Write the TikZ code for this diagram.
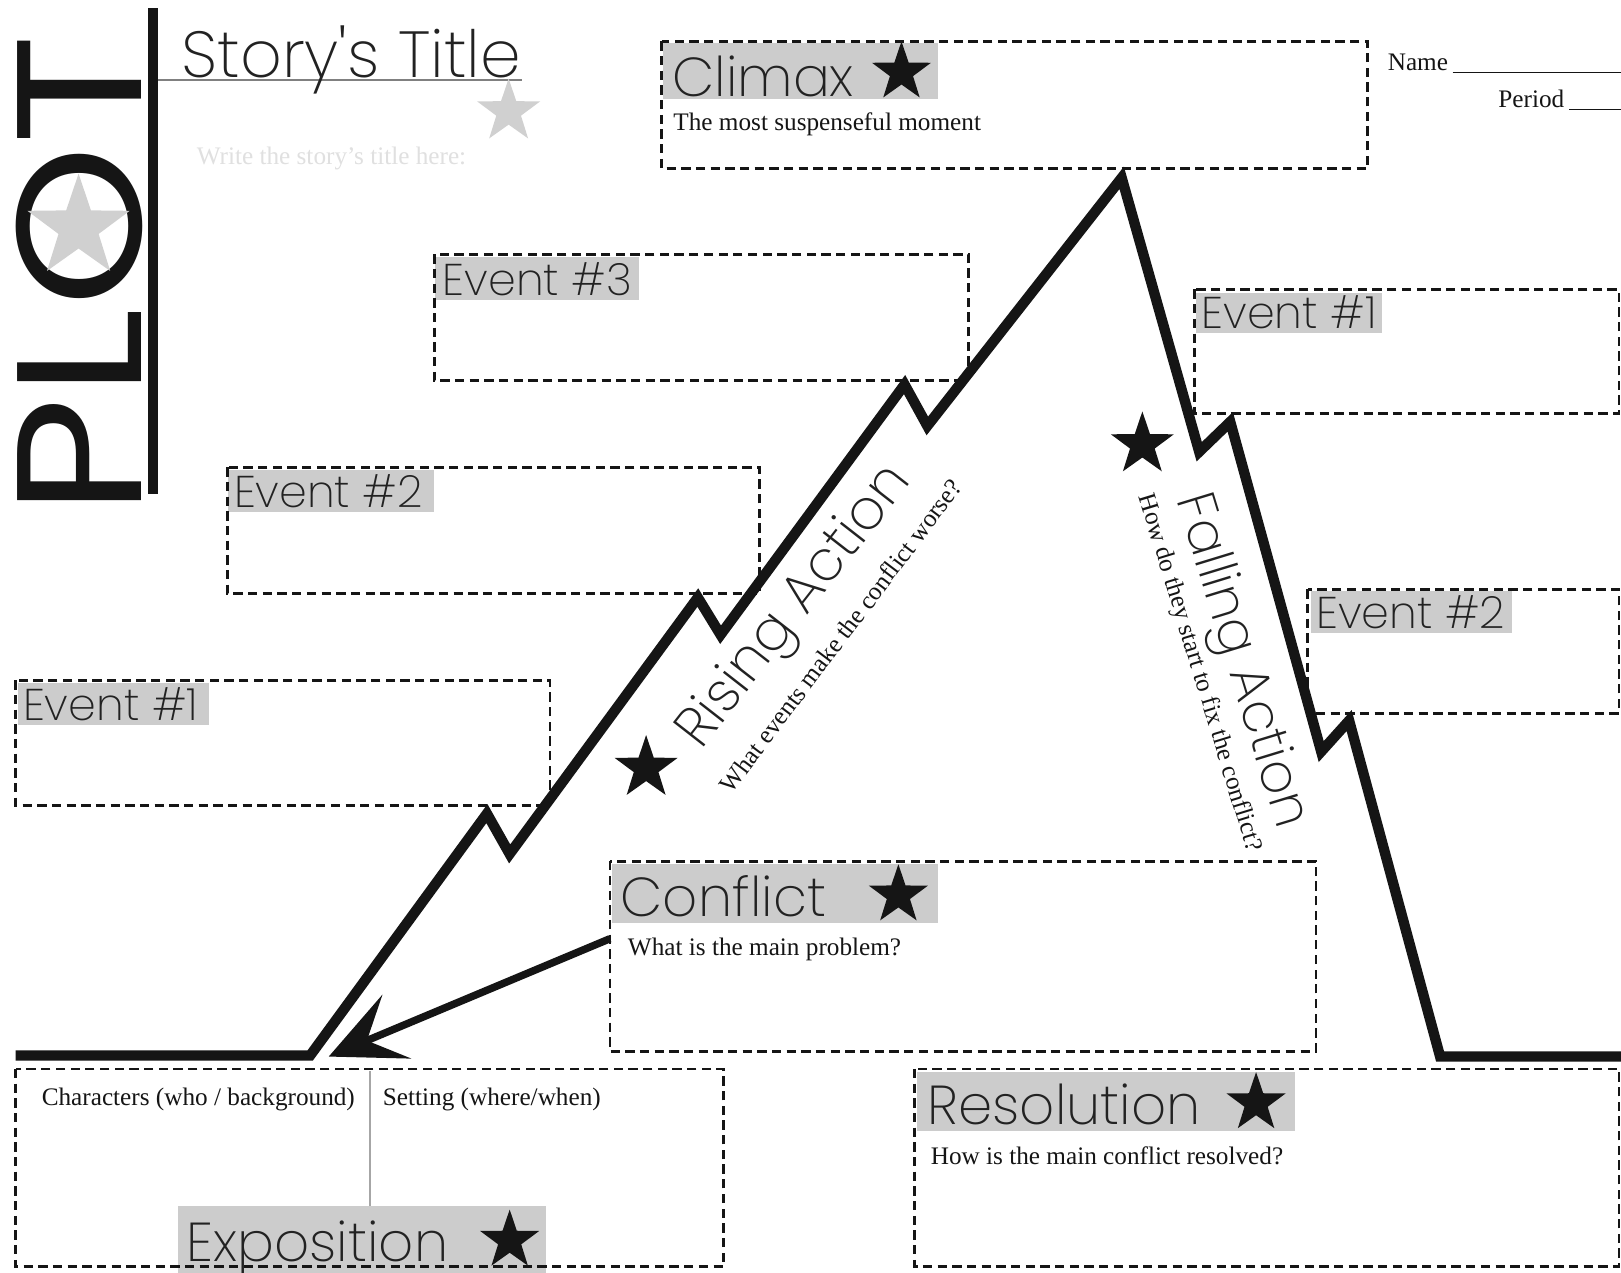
\documentclass[tikz,border=0pt]{standalone}
\usepackage{fontspec}
\setmainfont{Liberation Serif}
\IfFontExistsTF{Poppins ExtraLight}{\newfontfamily\hfont{Poppins ExtraLight}}{%
  \IfFontExistsTF{Poppins Light}{\newfontfamily\hfont{Poppins Light}}{\newfontfamily\hfont{Poppins}}}
\newfontfamily\pfont[FakeStretch=1.16]{Poppins}
\usetikzlibrary{shapes.geometric,calc}
\definecolor{lblgray}{HTML}{CCCCCC}
\definecolor{stargray}{HTML}{D0D0D0}
\definecolor{ink}{HTML}{151515}
\definecolor{hdink}{HTML}{222222}
\tikzset{
  box/.style={draw=ink, line width=1.4pt, dash pattern=on 4.5pt off 2.6pt},
  lbl/.style={fill=lblgray, draw=none},
  hd/.style={font=\hfont\fontsize{26.5}{30}\selectfont, text=hdink, inner sep=0pt, anchor=base west},
  ev/.style={font=\hfont\fontsize{21.5}{24}\selectfont, text=hdink, inner sep=0pt, anchor=base west},
  body/.style={font=\fontsize{12.2}{14}\selectfont, text=ink, inner sep=0pt, anchor=base west},
  bstar/.style={star, star points=5, star point ratio=2.55, fill=ink, draw=none, inner sep=0pt, minimum size=#1},
  gstar/.style={star, star points=5, star point ratio=2.55, fill=stargray, draw=none, inner sep=0pt, minimum size=#1},
  mount/.style={draw=ink, line width=5pt, line join=miter, line cap=butt},
}
\begin{document}
\begin{tikzpicture}[x=0.5pt,y=-0.5pt]
\fill[white] (0,0) rectangle (1568,1231);
\useasboundingbox (0,0) rectangle (1568,1231);

% ---------- PLOT header ----------
\node[rotate=90, anchor=base west, inner sep=0pt, font=\pfont\fontsize{86}{90}\selectfont, text=ink] (plot) at (137,500) {PLOT};
\node[gstar=52pt] (plotstar) at (76,220) {};
\fill[ink] (143,8) rectangle (153,478);

% ---------- Title ----------
\draw[gray, line width=1pt] (153,77) -- (505,77);
\node[font=\hfont\fontsize{31.5}{34}\selectfont, text=hdink, inner sep=0pt, anchor=base west] (title) at (175,75) {Story's Title};
\node[gstar=32pt] (titlestar) at (492,108) {};
\node[body, text=black!12] (titlehint) at (190,159) {Write the story's title here:};

% ---------- Name / Period ----------
\node[body] (name) at (1342,68) {Name};
\coordinate (nameA) at (1405,70); \coordinate (nameB) at (1568,70);
\draw[ink, line width=0.7pt] (nameA) -- (nameB);
\node[body] (period) at (1449,104) {Period};
\coordinate (perA) at (1518,106); \coordinate (perB) at (1568,106);
\draw[ink, line width=0.7pt] (perA) -- (perB);

% ---------- grey labels ----------
\fill[lbl] (641,42) rectangle (907,96);
\fill[lbl] (421,249) rectangle (618,290);
\fill[lbl] (1157,283) rectangle (1337,322);
\fill[lbl] (221,455) rectangle (420,495);
\fill[lbl] (1268,572) rectangle (1463,612);
\fill[lbl] (17,661) rectangle (202,701);
\fill[lbl] (592,836) rectangle (907,893);
\fill[lbl] (887,1037) rectangle (1253,1094);
\fill[lbl] (172,1167) rectangle (528,1231);

% ---------- dashed boxes ----------
\draw[box] (640,40) rectangle (1323,163);
\draw[box] (420,246) rectangle (937,368);
\draw[box] (1155,280) rectangle (1566,400);
\draw[box] (220,452) rectangle (735,574);
\draw[box] (1265,570) rectangle (1566,690);
\draw[box] (15,658) rectangle (532,779);
\draw[box] (590,833) rectangle (1273,1017);
\draw[box] (15,1034) rectangle (700,1225);
\draw[box] (885,1034) rectangle (1566,1225);
\draw[gray!70, line width=1pt] (358,1036) -- (358,1167);

% ---------- headings ----------
\node[hd] (climax) at (650,93) {Climax};
\node[bstar=30pt] (climaxstar) at (872,70) {};
\node[body] (climaxtxt) at (651,126) {The most suspenseful moment};

\node[ev] (ev3) at (428,286) {Event \#3};
\node[ev] (evr1) at (1162,318) {Event \#1};
\node[ev] (evl2) at (226,491) {Event \#2};
\node[ev] (evr2) at (1273,608) {Event \#2};
\node[ev] (evl1) at (22,697) {Event \#1};

\node[hd] (conflict) at (600,887) {Conflict};
\node[bstar=30pt] (conflictstar) at (869,866) {};
\node[body] (conflicttxt) at (607,924) {What is the main problem?};

\node[hd] (resolution) at (897,1088) {Resolution};
\node[bstar=30pt] (resstar) at (1215,1067) {};
\node[body] (restxt) at (900,1126) {How is the main conflict resolved?};

\node[body] (chars) at (40,1069) {Characters (who / background)};
\node[body] (setting) at (370,1069) {Setting (where/when)};
\node[hd] (expo) at (180,1220) {Exposition};
\node[bstar=30pt] (expostar) at (493,1200) {};

% ---------- rising / falling labels ----------
\node[rotate=52, inner sep=0pt, font=\hfont\fontsize{27}{30}\selectfont, text=hdink] (rising) at (770,588) {Rising Action};
\node[rotate=53, inner sep=0pt, font=\fontsize{12.2}{14}\selectfont, text=ink] (risingtxt) at (813,615) {What events make the conflict worse?};
\node[bstar=32pt] (risingstar) at (625,743) {};

\node[rotate=-73, inner sep=0pt, font=\hfont\fontsize{26}{30}\selectfont, text=hdink] (falling) at (1199,640) {Falling Action};
\node[rotate=-73, inner sep=0pt, font=\fontsize{12.2}{14}\selectfont, text=ink] (fallingtxt) at (1160,651) {How do they start to fix the conflict?};
\node[bstar=32pt] (fallingstar) at (1105,430) {};

% ---------- plot line ----------
\draw[mount] (15,1021) -- (300,1021) -- (471,787) -- (493,826) -- (675,578) -- (697,614)
  -- (875,372) -- (897,412) -- (1085,172) -- (1160,437) -- (1190,408) -- (1278,727)
  -- (1305,697) -- (1393,1022) -- (1568,1022);

% ---------- conflict arrow ----------
\coordinate (cfA) at (590,908);
\coordinate (cfTip) at (318,1022);
\coordinate (cfNotch) at ($(cfTip)!20pt!(cfA)$);
\coordinate (cfShaftEnd) at ($(cfTip)!15pt!(cfA)$);
\coordinate (cfUp) at (370,962);
\coordinate (cfLow) at (398,1024);
\draw[ink, line width=3.6pt] (cfA) -- (cfShaftEnd);
\fill[ink] (cfTip) -- (cfUp) -- (cfNotch) -- (cfLow) -- cycle;
\end{tikzpicture}
\end{document}
